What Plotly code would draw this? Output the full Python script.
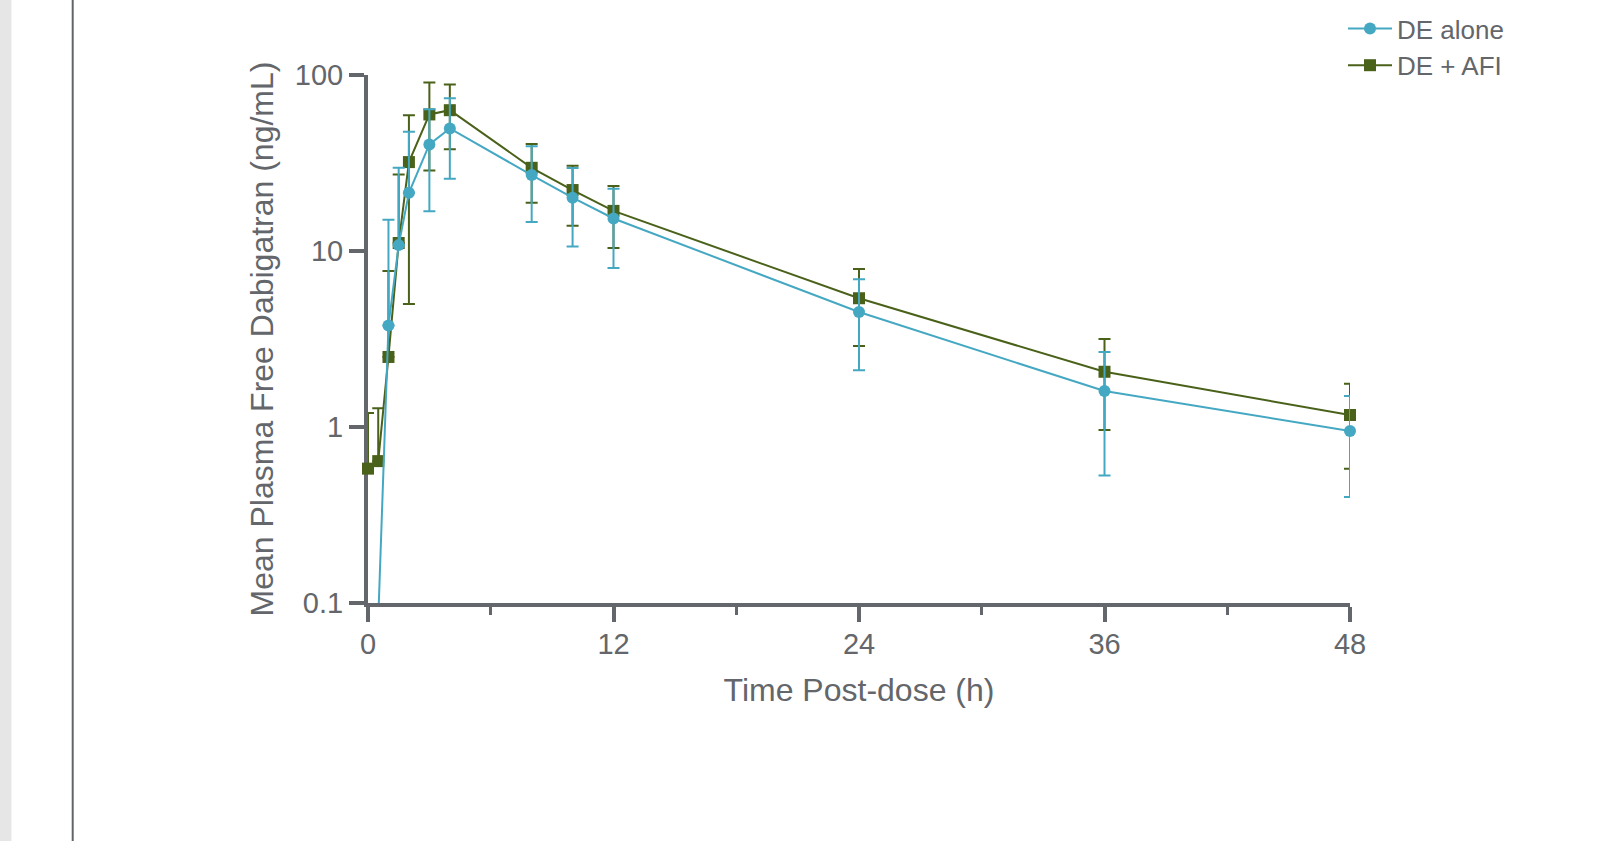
import plotly.graph_objects as go

# ---- data ----
time_h = [0, 0.5, 1, 1.5, 2, 3, 4, 8, 10, 12, 24, 36, 48]

de_alone_mean = [None, 0.08, 3.77, 10.8, 21.4, 40.3, 49.7, 27.0, 20.1, 15.3, 4.5, 1.60, 0.95]
de_alone_sd = [0, 0, 11.3, 18.9, 26.2, 23.5, 24.0, 12.4, 9.5, 7.3, 2.4, 1.07, 0.55]

de_afi_mean = [0.58, 0.64, 2.50, 11.1, 32.0, 59.7, 63.1, 29.7, 22.2, 16.9, 5.39, 2.06, 1.17]
de_afi_sd = [0.62, 0.64, 5.2, 16.1, 27.0, 31.0, 25.2, 10.9, 8.3, 6.5, 2.5, 1.1, 0.59]

x_ticks = [0, 12, 24, 36, 48]
y_ticks = [0.1, 1, 10, 100]
y_tick_labels = ["0.1", "1", "10", "100"]

series_names = ["DE alone", "DE + AFI"]

# ---- styles ----
BLUE = "#45a8c3"
GREEN = "#4a611a"
GRAY = "#63666a"
FONT = "Liberation Sans, Arial, sans-serif"

W, H = 1621, 841
ML, MR, MT, MB = 368, 271, 75, 238
Y_FLOOR = 0.1


def lower_err(mean, sd):
    out = []
    for m, s in zip(mean, sd):
        if m is None or s is None or m - s <= 0:
            out.append(0)
        else:
            out.append(s)
    return out


def marker_colors(mean, color):
    # points below the axis floor are not drawn (as if clipped)
    return ["rgba(0,0,0,0)" if (m is not None and m < Y_FLOOR) else color for m in mean]


fig = go.Figure()

fig.add_trace(go.Scatter(
    x=time_h, y=de_afi_mean, name=series_names[1], mode="lines+markers",
    line=dict(color=GREEN, width=2),
    marker=dict(symbol="square", size=12, color=marker_colors(de_afi_mean, GREEN), line=dict(width=0)),
    error_y=dict(type="data", array=de_afi_sd, arrayminus=lower_err(de_afi_mean, de_afi_sd),
                 color=GREEN, thickness=2, width=6),
    cliponaxis=False, legendrank=2,
))
fig.add_trace(go.Scatter(
    x=time_h, y=de_alone_mean, name=series_names[0], mode="lines+markers",
    line=dict(color=BLUE, width=2),
    marker=dict(symbol="circle", size=12, color=marker_colors(de_alone_mean, BLUE), line=dict(width=0)),
    error_y=dict(type="data", array=de_alone_sd, arrayminus=lower_err(de_alone_mean, de_alone_sd),
                 color=BLUE, thickness=2, width=6),
    cliponaxis=False, legendrank=1,
))

pw = W - ML - MR
ph = H - MT - MB


def px_x(p):
    return (p - ML) / pw


def px_y(p):
    return (H - MB - p) / ph


fig.update_layout(
    width=W, height=H,
    margin=dict(l=ML, r=MR, t=MT, b=MB, autoexpand=False),
    paper_bgcolor="white", plot_bgcolor="white",
    font=dict(family=FONT, color=GRAY, size=29),
    showlegend=True,
    legend=dict(
        x=px_x(1343), y=px_y(5), xanchor="left", yanchor="top",
        font=dict(size=26, color=GRAY), bgcolor="rgba(0,0,0,0)",
        itemwidth=44, tracegroupgap=0,
    ),
    xaxis=dict(
        range=[0, 48], tickvals=x_ticks, ticks="outside", ticklen=15, tickwidth=4,
        tickcolor=GRAY, showline=True, linecolor=GRAY, linewidth=4, layer="below traces",
        showgrid=False, zeroline=False, tickfont=dict(size=29, color=GRAY),
        ticklabelstandoff=-3,
        minor=dict(dtick=6, tick0=0, ticks="outside", ticklen=8, tickwidth=3, tickcolor=GRAY, showgrid=False),
        title=dict(text="Time Post-dose (h)", font=dict(size=32, color=GRAY), standoff=21),
        automargin=False,
    ),
    yaxis=dict(
        type="log", range=[-1, 2], tickvals=y_ticks, ticktext=y_tick_labels,
        ticks="outside", ticklen=15, tickwidth=4, tickcolor=GRAY, layer="below traces",
        showline=True, linecolor=GRAY, linewidth=4, showgrid=False, zeroline=False,
        tickfont=dict(size=29, color=GRAY),
        title=dict(text="Mean Plasma Free Dabigatran (ng/mL)", font=dict(size=32, color=GRAY), standoff=13),
        automargin=False,
    ),
    shapes=[
        dict(type="rect", xref="paper", yref="paper", x0=px_x(0), x1=px_x(11.4), y0=px_y(H), y1=px_y(0),
             fillcolor="#e6e6e6", line=dict(width=0), layer="below"),
        dict(type="line", xref="paper", yref="paper", x0=px_x(72.7), x1=px_x(72.7), y0=px_y(H), y1=px_y(0),
             line=dict(color="#606368", width=2)),
    ],
)

fig.write_html("out.html", config={"displayModeBar": False},
               post_script="document.body.style.margin='0px';")
